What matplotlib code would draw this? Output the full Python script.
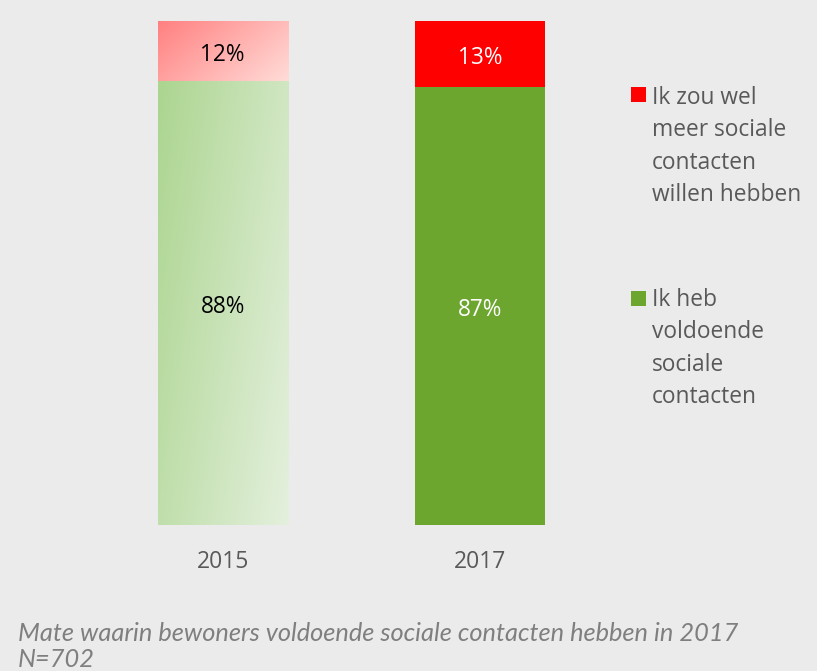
import matplotlib.pyplot as plt
import numpy as np
from matplotlib.patches import Rectangle
from matplotlib.colors import LinearSegmentedColormap

plt.rcParams["font.family"] = ["Open Sans", "DejaVu Sans"]

years = ["2015", "2017"]
enough = [88, 87]
more_wanted = [12, 13]
enough_labels = ["88%", "87%"]
more_labels = ["12%", "13%"]
legend_labels = ["Ik zou wel\nmeer sociale\ncontacten\nwillen hebben",
                 "Ik heb\nvoldoende\nsociale\ncontacten"]
caption = "Mate waarin bewoners voldoende sociale contacten hebben in 2017\nN=702"

bg = "#ebebeb"
green = "#6ca62f"
red = "#ff0000"
grey_txt = "#595959"

fig = plt.figure(figsize=(8.17, 6.71), dpi=100, facecolor=bg)
ax = fig.add_axes([94 / 817, (671 - 525) / 671, (609 - 94) / 817, 504 / 671])
ax.set_facecolor(bg)
x = np.arange(len(years))
w = 0.505

# 2015 gets a soft gradient, 2017 solid colours
green_cmap = LinearSegmentedColormap.from_list("g", ["#acd590", "#e4f0dd"])
red_cmap = LinearSegmentedColormap.from_list("r", ["#ff8080", "#ffdcd8"])

bars_g = ax.bar(x, enough, w, color=[green, green], zorder=2)
bars_r = ax.bar(x, more_wanted, w, bottom=enough, color=[red, red], zorder=2)

def gradient(bar, cmap, ky):
    x0, y0 = bar.get_x(), bar.get_y()
    bw, bh = bar.get_width(), bar.get_height()
    xx, yy = np.meshgrid(np.linspace(0, 1, 200), np.linspace(0, 1, 200))
    t = 0.65 * xx + ky * (1 - yy)
    t = t / t.max()
    im = ax.imshow(t, cmap=cmap, extent=[x0, x0 + bw, y0, y0 + bh],
                   origin="lower", aspect="auto", zorder=3, vmin=0, vmax=1)
    bar.set_visible(False)
    return im

gradient(bars_g[0], green_cmap, 0.35)
gradient(bars_r[0], red_cmap, 0.35)

for i in range(len(years)):
    col = "black" if i == 0 else "white"
    ax.annotate(enough_labels[i], (x[i], enough[i] / 2), xytext=(0, -3),
                textcoords="offset points", ha="center", va="center",
                fontsize=16.3, color=col, zorder=5)
    ax.annotate(more_labels[i], (x[i], enough[i] + more_wanted[i] / 2), xytext=(0, -3),
                textcoords="offset points", ha="center", va="center",
                fontsize=16.3, color=col, zorder=5)

ax.set_xlim(-0.5, 1.5)
ax.set_ylim(0, 100)
ax.set_xticks(x)
ax.set_xticklabels(years, fontsize=16.5, color=grey_txt)
ax.tick_params(axis="x", length=0, pad=18)
ax.set_yticks([])
for s in ax.spines.values():
    s.set_visible(False)

# legend, drawn by hand to keep the loose line spacing
for lab, col, ysq, ytxt in zip(legend_labels, [red, green], [87, 291], [86, 288]):
    fig.patches.append(Rectangle((631 / 817, 1 - (ysq + 15) / 671), 15 / 817, 15 / 671,
                                 transform=fig.transFigure, facecolor=col,
                                 edgecolor="none"))
    fig.text(652 / 817, 1 - ytxt / 671, lab, ha="left", va="top",
             fontsize=16.4, color=grey_txt, linespacing=1.465)

fig.text(18 / 817, 1 - 622 / 671, caption, ha="left", va="top", fontsize=18.3,
         color="#7f7f7f", style="italic", family="Lato", linespacing=1.15)

fig.savefig("out.png", dpi=100, facecolor=bg)
